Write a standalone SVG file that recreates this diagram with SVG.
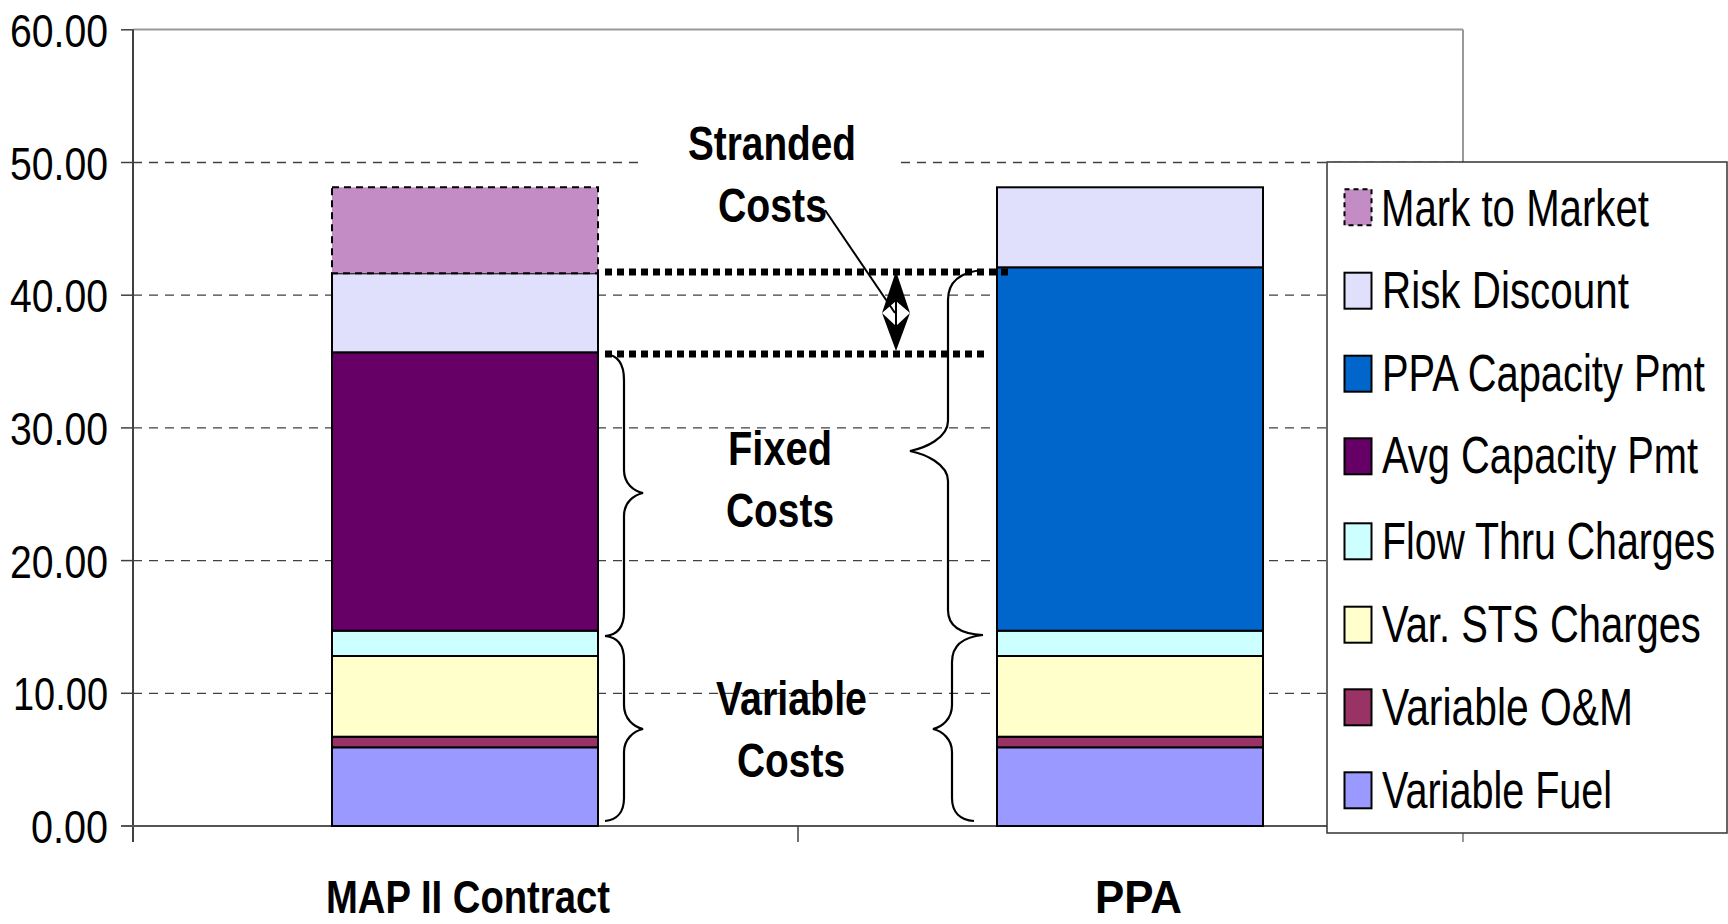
<svg xmlns="http://www.w3.org/2000/svg" width="1728" height="924" viewBox="0 0 1728 924">
<style>
.grid{stroke:#404040;stroke-width:1.3;stroke-dasharray:9 7;fill:none}
.ax{font-family:"Liberation Sans",Arial,sans-serif;font-size:46px;fill:#000}
.lg{font-family:"Liberation Sans",Arial,sans-serif;font-size:51px;fill:#000}
.bd{font-family:"Liberation Sans",Arial,sans-serif;font-size:49px;font-weight:bold;fill:#000}
.cat{font-family:"Liberation Sans",Arial,sans-serif;font-size:47px;font-weight:bold;fill:#000}
.seg{stroke:#000;stroke-width:2}
.sw{stroke:#000;stroke-width:2}
.mtm{fill:#C48CC4}
.risk{fill:#E0E0FC}
.ppa{fill:#0066CC}
.avg{fill:#660066}
.flow{fill:#CCFFFF}
.sts{fill:#FFFFCC}
.om{fill:#993366}
.fuel{fill:#9999FF}
.dash{stroke:#000;stroke-width:2;stroke-dasharray:7 5;fill:none}
.dot{stroke:#000;stroke-width:7;stroke-dasharray:7 5;fill:none}
.brace{stroke:#000;stroke-width:2.2;fill:none}
</style>
<rect width="1728" height="924" fill="#fff"/>
<g id="plot-area">
<line x1="133" y1="29.5" x2="1463" y2="29.5" stroke="#999" stroke-width="2"/>
<line x1="1463" y1="29.5" x2="1463" y2="842" stroke="#999" stroke-width="2"/>
<line class="grid" x1="133" y1="162.5" x2="1463" y2="162.5"/>
<line class="grid" x1="133" y1="295.2" x2="1463" y2="295.2"/>
<line class="grid" x1="133" y1="427.9" x2="1463" y2="427.9"/>
<line class="grid" x1="133" y1="560.6" x2="1463" y2="560.6"/>
<line class="grid" x1="133" y1="693.3" x2="1463" y2="693.3"/>
</g>
<g id="y-axis">
<line x1="133" y1="29.5" x2="133" y2="842" stroke="#404040" stroke-width="2"/>
<g stroke="#404040" stroke-width="1.5">
<line x1="121" y1="29.8" x2="133" y2="29.8"/>
<line x1="121" y1="162.5" x2="133" y2="162.5"/>
<line x1="121" y1="295.2" x2="133" y2="295.2"/>
<line x1="121" y1="427.9" x2="133" y2="427.9"/>
<line x1="121" y1="560.6" x2="133" y2="560.6"/>
<line x1="121" y1="693.3" x2="133" y2="693.3"/>
</g>
<text class="ax" x="10" y="46.5" textLength="98" lengthAdjust="spacingAndGlyphs">60.00</text>
<text class="ax" x="10" y="179.5" textLength="98" lengthAdjust="spacingAndGlyphs">50.00</text>
<text class="ax" x="10" y="312.2" textLength="98" lengthAdjust="spacingAndGlyphs">40.00</text>
<text class="ax" x="10" y="444.9" textLength="98" lengthAdjust="spacingAndGlyphs">30.00</text>
<text class="ax" x="10" y="577.6" textLength="98" lengthAdjust="spacingAndGlyphs">20.00</text>
<text class="ax" x="13" y="710.3" textLength="95" lengthAdjust="spacingAndGlyphs">10.00</text>
<text class="ax" x="31" y="843" textLength="77" lengthAdjust="spacingAndGlyphs">0.00</text>
</g>
<g id="x-axis">
<line x1="121" y1="826" x2="1463" y2="826" stroke="#555" stroke-width="2"/>
<line x1="798" y1="826" x2="798" y2="842" stroke="#404040" stroke-width="1.5"/>
<text class="cat" x="326" y="913" textLength="284" lengthAdjust="spacingAndGlyphs">MAP II Contract</text>
<text class="cat" x="1095" y="913" textLength="87" lengthAdjust="spacingAndGlyphs">PPA</text>
</g>
<g id="bar-map">
<rect class="seg fuel" x="332" y="747.3" width="266" height="78.7"/>
<rect class="seg om" x="332" y="736.7" width="266" height="10.6"/>
<rect class="seg sts" x="332" y="656" width="266" height="80.7"/>
<rect class="seg flow" x="332" y="630.7" width="266" height="25.3"/>
<rect class="seg avg" x="332" y="352.3" width="266" height="278.4"/>
<rect class="seg risk" x="332" y="273.3" width="266" height="79"/>
<rect class="mtm" x="332" y="187.3" width="266" height="86"/>
<rect class="dash" x="332" y="187.3" width="266" height="86"/>
</g>
<g id="bar-ppa">
<rect class="seg fuel" x="997" y="747.3" width="266" height="78.7"/>
<rect class="seg om" x="997" y="736.7" width="266" height="10.6"/>
<rect class="seg sts" x="997" y="656" width="266" height="80.7"/>
<rect class="seg flow" x="997" y="630.7" width="266" height="25.3"/>
<rect class="seg ppa" x="997" y="267.3" width="266" height="363.4"/>
<rect class="seg risk" x="997" y="187.3" width="266" height="80"/>
</g>
<g id="label-stranded">
<rect x="643" y="118" width="257" height="118" fill="#fff"/>
<text class="bd" x="688" y="160" textLength="168" lengthAdjust="spacingAndGlyphs">Stranded</text>
<text class="bd" x="718" y="221.7" textLength="109" lengthAdjust="spacingAndGlyphs">Costs</text>
</g>
<g id="label-fixed">
<text class="bd" x="728" y="465" textLength="104" lengthAdjust="spacingAndGlyphs">Fixed</text>
<text class="bd" x="726" y="526.7" textLength="108" lengthAdjust="spacingAndGlyphs">Costs</text>
</g>
<g id="label-variable">
<text class="bd" x="716" y="715" textLength="151" lengthAdjust="spacingAndGlyphs">Variable</text>
<text class="bd" x="737" y="776.7" textLength="108" lengthAdjust="spacingAndGlyphs">Costs</text>
</g>
<g id="connectors">
<line class="dot" x1="605" y1="272" x2="1012" y2="272"/>
<line class="dot" x1="605" y1="354" x2="989" y2="354"/>
<path class="brace" d="M605,354 C618,355 624,364 624,380 L624,470 C624,484 634,491 643,493 C634,495 624,502 624,516 L624,612 C624,627 617,635 605,636"/>
<path class="brace" d="M605,636 C617,637 624,645 624,660 L624,705 C624,719 634,727 643,729 C634,731 624,739 624,752 L624,798 C624,812 617,820 605,821"/>
<path class="brace" d="M983,270 C960,272 948,282 948,300 L948,421 C948,438 925,448 910,451 C925,454 948,464 948,481 L948,610 C948,626 960,634 983,635"/>
<path class="brace" d="M983,635 C962,637 952,646 952,662 L952,705 C952,719 942,727 933,729 C942,731 952,739 952,752 L952,798 C952,812 960,820 974,821"/>
<line x1="825" y1="210" x2="895" y2="313" stroke="#000" stroke-width="2"/>
<line x1="896" y1="278" x2="896" y2="345" stroke="#000" stroke-width="2"/>
<polygon points="896,271 910,313 896,301 882,313" fill="#000"/>
<polygon points="896,351 910,313 896,326 882,313" fill="#000"/>
</g>
<g id="legend">
<rect x="1327" y="162" width="400" height="671" fill="#fff" stroke="#333" stroke-width="1.5"/>
<g id="legend-mtm">
<rect class="mtm" x="1344.5" y="189.3" width="27" height="36"/>
<rect class="dash" x="1344.5" y="189.3" width="27" height="36" style="stroke-dasharray:5 4"/>
<text class="lg" transform="translate(1381,226) scale(0.788,1)">Mark to Market</text>
</g>
<g id="legend-risk">
<rect class="sw risk" x="1344.5" y="272.7" width="27" height="36"/>
<text class="lg" transform="translate(1382,308.3) scale(0.792,1)">Risk Discount</text>
</g>
<g id="legend-ppa">
<rect class="sw ppa" x="1344.5" y="355.7" width="27" height="36"/>
<text class="lg" transform="translate(1382,390.7) scale(0.782,1)">PPA Capacity Pmt</text>
</g>
<g id="legend-avg">
<rect class="sw avg" x="1344.5" y="438.3" width="27" height="36"/>
<text class="lg" transform="translate(1382,473.3) scale(0.782,1)">Avg Capacity Pmt</text>
</g>
<g id="legend-flow">
<rect class="sw flow" x="1344.5" y="523.3" width="27" height="36"/>
<text class="lg" transform="translate(1382,559.3) scale(0.77,1)">Flow Thru Charges</text>
</g>
<g id="legend-sts">
<rect class="sw sts" x="1344.5" y="606.7" width="27" height="36"/>
<text class="lg" transform="translate(1382,642.3) scale(0.783,1)">Var. STS Charges</text>
</g>
<g id="legend-om">
<rect class="sw om" x="1344.5" y="689.3" width="27" height="36"/>
<text class="lg" transform="translate(1382,725) scale(0.8,1)">Variable O&amp;M</text>
</g>
<g id="legend-fuel">
<rect class="sw fuel" x="1344.5" y="772.3" width="27" height="36"/>
<text class="lg" transform="translate(1382,807.7) scale(0.776,1)">Variable Fuel</text>
</g>
</g>
</svg>
